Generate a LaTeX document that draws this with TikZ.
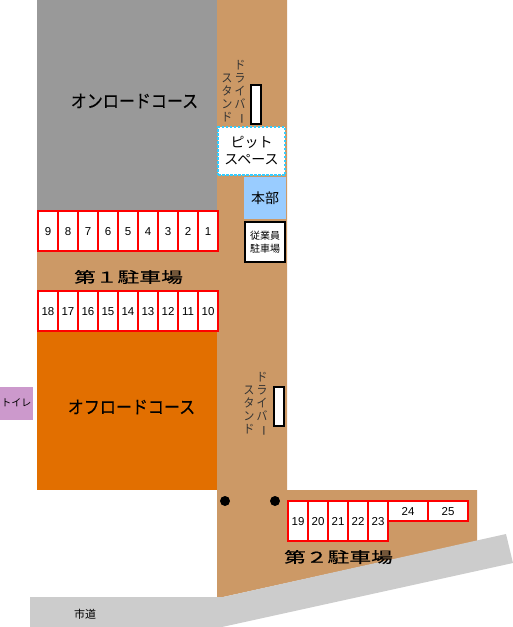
\documentclass[tikz,border=0pt]{standalone}
\usepackage{fontspec}
\usepackage{graphicx}
\setmainfont{Liberation Sans}
\newfontfamily\cjk{Noto Sans CJK JP}
\newfontfamily\cjktall[FakeStretch=0.89,FakeBold=0.2]{Noto Sans CJK JP}
\newfontfamily\cjknarrow[FakeStretch=0.9]{Noto Sans CJK JP}
\newfontfamily\cjkwide[FakeStretch=1.45,FakeBold=0.5]{Noto Sans CJK JP}
\definecolor{roadbrown}{HTML}{CC9966}
\definecolor{coursegrey}{HTML}{999999}
\definecolor{courseorange}{HTML}{E26F00}
\definecolor{streetgrey}{HTML}{CCCCCC}
\definecolor{toiletpurple}{HTML}{CC99CC}
\definecolor{hqblue}{HTML}{99CCFF}
\definecolor{pitcyan}{HTML}{33CCFF}
\newcommand{\longbar}{\rotatebox[origin=c]{-90}{ー}}
\tikzset{
  slot/.style={draw=red,line width=1.6pt,fill=white,inner sep=0pt,minimum width=20pt,minimum height=40pt,text height=8.5pt,text depth=0pt,font=\fontsize{11.5}{13}\selectfont},
  wideslot/.style={slot,minimum width=40pt,minimum height=20pt},
  standbox/.style={draw=black,line width=1.6pt,fill=white,inner sep=0pt,minimum width=10pt,minimum height=39pt},
  course/.style={inner sep=0pt,font=\cjktall\fontsize{18}{20}\selectfont},
  lotlabel/.style={inner sep=0pt,font=\cjkwide\fontsize{15}{18}\selectfont},
  vtext/.style={inner sep=0pt,align=center,text=black!80,font=\cjknarrow\fontsize{12}{13}\selectfont},
}
\begin{document}
\begin{tikzpicture}[x=1pt,y=-1pt]
\useasboundingbox (0,0) rectangle (513,627);
% road and parking ground
\fill[roadbrown] (217,0) -- (287,0) -- (287,490) -- (477,490) -- (477,541) -- (223,597) -- (217,597) -- cycle;
\fill[roadbrown] (37,210) rectangle (217,331);
% courses
\fill[coursegrey] (37,0) rectangle (217,210);
\fill[courseorange] (37,331) rectangle (217,490);
% street
\fill[streetgrey] (30,597) -- (223,597) -- (506,534) -- (513,563) -- (222,627) -- (30,627) -- cycle;
% toilet
\node[fill=toiletpurple,inner sep=0pt,minimum width=33pt,minimum height=33pt,font=\cjk\fontsize{10}{14}\selectfont] (toilet) at (16.5,403) {トイレ};
% course labels
\node[course] (onroad) at (134.5,101) {オンロードコース};
\node[course] (offroad) at (131.5,407) {オフロードコース};
% upper slots 1-9
\foreach \n [evaluate=\n as \xx using 218-10-(\n-1)*20] in {1,...,9}
  \node[slot] (s\n) at (\xx,231) {\n};
% lower slots 10-18
\foreach \n [evaluate=\n as \xx using 218-10-(\n-10)*20] in {10,...,18}
  \node[slot] (s\n) at (\xx,311) {\n};
% slots 19-23
\foreach \n [evaluate=\n as \xx using 298+(\n-19)*20] in {19,...,23}
  \node[slot] (s\n) at (\xx,521) {\n};
\node[wideslot] (s24) at (408,511) {24};
\node[wideslot] (s25) at (448,511) {25};
% lot labels
\node[lotlabel] (lot1) at (128.5,277) {第１駐車場};
\node[lotlabel] (lot2) at (338.5,557) {第２駐車場};
% pit, hq, staff
\node[draw=pitcyan,dash pattern=on 2.5pt off 1.5pt,line width=1.2pt,fill=white,inner sep=0pt,minimum width=67pt,minimum height=48pt,align=center,font=\cjk\fontsize{14}{17}\selectfont] (pit) at (251.5,151) {ピット\\スペース};
\node[fill=hqblue,inner sep=0pt,minimum width=42pt,minimum height=42pt,font=\cjk\fontsize{14}{17}\selectfont] (hq) at (265,198) {本部};
\node[draw=black,line width=1.6pt,fill=white,inner sep=0pt,minimum width=40pt,minimum height=40pt,align=center,font=\cjk\fontsize{10}{12.5}\selectfont] (staff) at (265,242) {従業員\\駐車場};
% driver stands
\node[standbox] (stand1) at (256,104.5) {};
\node[standbox] (stand2) at (279,406.5) {};
\node[vtext,anchor=south] (d1a) at (240,124) {ド\\ラ\\イ\\バ\\\longbar};
\node[vtext,anchor=south] (d1b) at (227,122) {ス\\タ\\ン\\ド};
\node[vtext,anchor=south] (d2a) at (262,436) {ド\\ラ\\イ\\バ\\\longbar};
\node[vtext,anchor=south] (d2b) at (249,434) {ス\\タ\\ン\\ド};
% dots
\fill[black] (225,501) circle (5pt);
\fill[black] (275,501) circle (5pt);
% street label
\node[inner sep=0pt,font=\cjk\fontsize{11}{13}\selectfont] (street) at (85,614) {市道};
\end{tikzpicture}
\end{document}
